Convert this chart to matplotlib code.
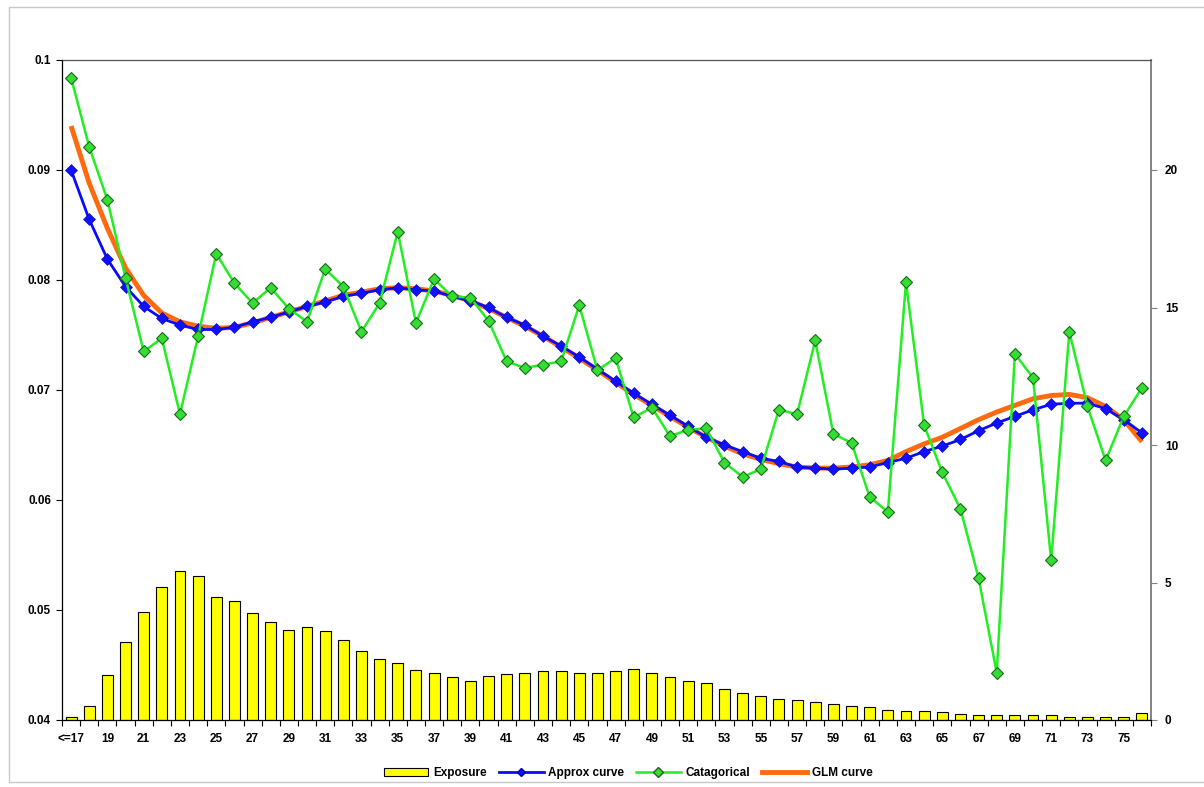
import matplotlib
matplotlib.use("Agg")
import matplotlib.pyplot as plt
import matplotlib.patches as patches
from matplotlib.lines import Line2D
import numpy as np

# --- DATA ---
age_labels = ["<=17"] + [str(a) for a in range(18, 77)]

exposure = [0.12, 0.51, 1.62, 2.83, 3.93, 4.83, 5.42, 5.24, 4.48, 4.33,
            3.88, 3.56, 3.27, 3.37, 3.24, 2.91, 2.52, 2.22, 2.06, 1.82,
            1.71, 1.58, 1.42, 1.61, 1.67, 1.71, 1.77, 1.77, 1.72, 1.72,
            1.78, 1.84, 1.72, 1.58, 1.42, 1.33, 1.13, 0.97, 0.88, 0.78,
            0.73, 0.67, 0.57, 0.52, 0.47, 0.36, 0.32, 0.32, 0.28, 0.22,
            0.18, 0.18, 0.18, 0.18, 0.18, 0.12, 0.12, 0.12, 0.12, 0.27]

approx_curve = [0.0900, 0.0855, 0.0819, 0.0794, 0.0776, 0.0765, 0.0759, 0.0755, 0.0755, 0.0757,
                0.0762, 0.0766, 0.0771, 0.0776, 0.0780, 0.0785, 0.0788, 0.0791, 0.0793, 0.0791,
                0.0790, 0.0785, 0.0781, 0.0775, 0.0766, 0.0759, 0.0749, 0.0740, 0.0730, 0.0719,
                0.0708, 0.0697, 0.0687, 0.0677, 0.0667, 0.0657, 0.0650, 0.0644, 0.0638, 0.0635,
                0.0630, 0.0629, 0.0628, 0.0629, 0.0630, 0.0634, 0.0638, 0.0644, 0.0649, 0.0655,
                0.0663, 0.0670, 0.0676, 0.0682, 0.0687, 0.0688, 0.0688, 0.0683, 0.0673, 0.0661]

categorical = [0.0984, 0.0921, 0.0873, 0.0802, 0.0735, 0.0747, 0.0678, 0.0749, 0.0824, 0.0797,
               0.0779, 0.0793, 0.0774, 0.0762, 0.0810, 0.0794, 0.0753, 0.0779, 0.0844, 0.0761,
               0.0801, 0.0785, 0.0784, 0.0763, 0.0726, 0.0720, 0.0723, 0.0726, 0.0777, 0.0718,
               0.0729, 0.0675, 0.0684, 0.0658, 0.0664, 0.0665, 0.0634, 0.0621, 0.0628, 0.0682,
               0.0678, 0.0745, 0.0660, 0.0652, 0.0603, 0.0589, 0.0798, 0.0668, 0.0625, 0.0592,
               0.0529, 0.0443, 0.0733, 0.0711, 0.0545, 0.0753, 0.0685, 0.0636, 0.0676, 0.0702]

glm_curve = [0.0940, 0.0888, 0.0847, 0.0811, 0.0786, 0.0770, 0.0762, 0.0758, 0.0756, 0.0757,
             0.0761, 0.0766, 0.0771, 0.0776, 0.0781, 0.0786, 0.0789, 0.0792, 0.0793, 0.0792,
             0.0790, 0.0786, 0.0781, 0.0774, 0.0766, 0.0758, 0.0749, 0.0739, 0.0729, 0.0718,
             0.0707, 0.0696, 0.0686, 0.0676, 0.0666, 0.0657, 0.0649, 0.0642, 0.0637, 0.0633,
             0.0630, 0.0629, 0.0629, 0.0630, 0.0632, 0.0636, 0.0644, 0.0651, 0.0657, 0.0665,
             0.0673, 0.0680, 0.0686, 0.0692, 0.0695, 0.0696, 0.0693, 0.0685, 0.0673, 0.0653]

left_ticks = [0.04, 0.05, 0.06, 0.07, 0.08, 0.09, 0.1]
left_tick_labels = ["0.04", "0.05", "0.06", "0.07", "0.08", "0.09", "0.1"]
right_ticks = [0, 5, 10, 15, 20]

# --- STYLE ---
plt.rcParams['font.family'] = ['Liberation Sans', 'DejaVu Sans']
plt.rcParams['font.weight'] = 'bold'
FS = 8.5

fig = plt.figure(figsize=(12.04, 7.87), dpi=100)
fig.patch.set_facecolor('white')

# outer chart border (light grey)
W, H = 1204, 787
border = patches.Rectangle((9 / W, 1 - 782 / H), (1210 - 9) / W, (782 - 7) / H,
                           transform=fig.transFigure, fill=False,
                           edgecolor='#c8c8c8', linewidth=1.0)
fig.patches.append(border)

ax = fig.add_axes([62 / W, 1 - 720 / H, (1151 - 62) / W, (720 - 60) / H])
ax2 = ax.twinx()   # twinx moves ax ticks to the left, so set sides afterwards
x = np.arange(len(age_labels))

# bars on the right-hand axis
ax.bar(x, exposure, width=0.6, color='#ffff00', edgecolor='black', linewidth=0.8, zorder=2)
ax.set_ylim(0, 24)
ax.set_xlim(-0.5, len(age_labels) - 0.5)
ax.yaxis.tick_right()
ax.set_yticks(right_ticks)
ax.set_yticklabels([str(t) for t in right_ticks], fontsize=FS, fontweight='bold')
ax.tick_params(axis='y', length=4, width=0.8, color='#808080', pad=6)

# x ticks: marks between categories, labels every other one
ax.set_xticks(x[::2])
ax.set_xticklabels(age_labels[::2], fontsize=FS, fontweight='bold')
ax.set_xticks(np.arange(-0.5, len(age_labels), 1.0), minor=True)
ax.tick_params(axis='x', which='major', length=0, pad=9)
ax.tick_params(axis='x', which='minor', length=4, width=0.8, direction='out')

for side in ['left', 'bottom']:
    ax.spines[side].set_color('black')
    ax.spines[side].set_linewidth(0.9)
ax.spines['top'].set_color('#505050')
ax.spines['top'].set_linewidth(0.9)
ax.spines['right'].set_color('#707070')
ax.spines['right'].set_linewidth(1.2)

# lines on the left-hand axis
ax2.yaxis.tick_left()
ax2.set_ylim(0.04, 0.1)
ax2.set_yticks(left_ticks)
ax2.set_yticklabels(left_tick_labels, fontsize=FS, fontweight='bold')
ax2.tick_params(axis='y', length=4, width=0.8, pad=4)
for s in ax2.spines.values():
    s.set_visible(False)

ax2.plot(x, glm_curve, color='#ff6a10', linewidth=3.5, zorder=2, solid_capstyle='butt')
ax2.plot(x, approx_curve, color='#0a0aff', linewidth=2, marker='D', markersize=6,
         markerfacecolor='#1010ff', markeredgecolor='#0000b0', markeredgewidth=0.4, zorder=3)
ax2.plot(x, categorical, color='#22ee22', linewidth=1.8, marker='D', markersize=6.5,
         markerfacecolor='#33dd33', markeredgecolor='#1a6b1a', markeredgewidth=0.8, zorder=4)

# legend along the bottom
handles = [
    patches.Patch(facecolor='#ffff00', edgecolor='black', linewidth=0.8, label='Exposure'),
    Line2D([], [], color='#0a0aff', linewidth=2, marker='D', markersize=4,
           markerfacecolor='#1010ff', markeredgecolor='#0000b0', label='Approx curve'),
    Line2D([], [], color='#22ee22', linewidth=1.8, marker='D', markersize=5,
           markerfacecolor='#33dd33', markeredgecolor='#1a6b1a', label='Catagorical'),
    Line2D([], [], color='#ff6a10', linewidth=3.5, label='GLM curve'),
]
fig.legend(handles=handles, loc='center', bbox_to_anchor=(628 / W, 1 - 773 / H),
           ncol=4, frameon=False, handlelength=3.8, handleheight=0.7,
           columnspacing=1.0, handletextpad=0.4, prop={'weight': 'bold', 'size': FS})

fig.savefig('out.png', dpi=100, facecolor='white')
